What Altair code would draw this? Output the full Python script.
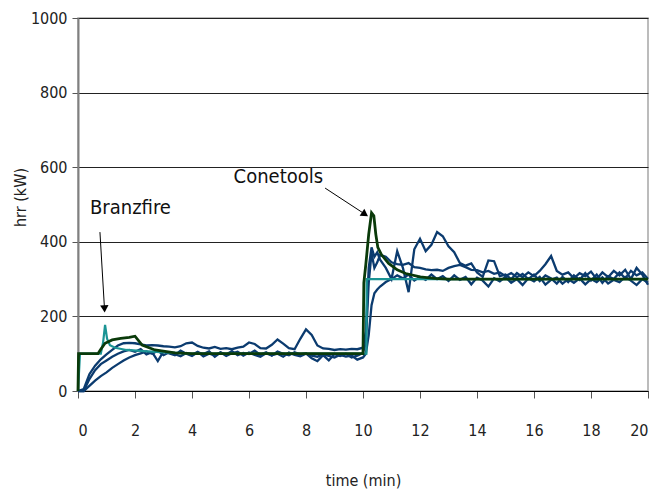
import altair as alt
import pandas as pd

FONT = "DejaVu Sans Condensed, DejaVu Sans, sans-serif"

# time grid for the three measured (experimental) curves, min
T = [0.0, 0.2, 0.4, 0.6, 0.8, 1.0, 1.2, 1.4, 1.6, 1.8,
     2.0, 2.2, 2.4, 2.6, 2.8, 3.0, 3.2, 3.4, 3.6, 3.8,
     4.0, 4.2, 4.4, 4.6, 4.8, 5.0, 5.2, 5.4, 5.6, 5.8,
     6.0, 6.2, 6.4, 6.6, 6.8, 7.0, 7.2, 7.4, 7.6, 7.8,
     8.0, 8.2, 8.4, 8.6, 8.8, 9.0, 9.2, 9.4, 9.6, 9.8,
     10.0, 10.1, 10.2, 10.3, 10.4, 10.5, 10.6,
     10.8, 11.0, 11.2, 11.4, 11.6, 11.8, 12.0, 12.2, 12.4, 12.6,
     12.8, 13.0, 13.2, 13.4, 13.6, 13.8, 14.0, 14.2, 14.4, 14.6,
     14.8, 15.0, 15.2, 15.4, 15.6, 15.8, 16.0, 16.2, 16.4, 16.6,
     16.8, 17.0, 17.2, 17.4, 17.6, 17.8, 18.0, 18.2, 18.4, 18.6,
     18.8, 19.0, 19.2, 19.4, 19.6, 19.8, 20.0]

exp1 = [0, 5, 45, 68, 85, 98, 110, 122, 128, 129,
        128, 125, 122, 123, 122, 120, 119, 117, 120, 128,
        130, 121, 116, 114, 118, 113, 115, 112, 116, 119,
        130, 126, 115, 114, 124, 138, 127, 115, 112, 140,
        165, 150, 122, 114, 113, 110, 112, 111, 113, 112,
        116, 160, 330, 385, 360, 372, 352,
        330, 300, 375, 330, 265, 380, 408, 375, 392, 426,
        415, 388, 372, 343, 336, 342, 318, 306, 350, 348,
        308, 312, 300, 316, 305, 318, 308, 322, 340, 362,
        322, 312, 318, 302, 316, 308, 320, 300, 318, 305,
        322, 310, 325, 300, 330, 312, 285]

exp2 = [0, 0, 32, 56, 72, 82, 92, 100, 106, 110,
        105, 112, 98, 104, 80, 106, 101, 96, 108, 100,
        94, 104, 99, 106, 92, 103, 98, 107, 96, 102,
        99, 108, 97, 104, 95, 106, 100, 96, 104, 98,
        101, 88, 80, 96, 82, 99, 94, 100, 90, 95,
        102, 130, 290, 370, 330, 345, 365,
        360, 345, 340, 338, 343, 332, 330, 326, 324, 325,
        322, 330, 335, 338, 332, 325, 324, 318, 322, 314,
        318, 308, 316, 305, 314, 300, 312, 295, 310, 302,
        288, 306, 292, 310, 298, 316, 296, 312, 290, 308,
        300, 318, 302, 322, 310, 318, 300]

exp3 = [0, 0, 14, 28, 40, 50, 62, 72, 82, 90,
        96, 101, 106, 100, 108, 96, 104, 99, 93, 102,
        97, 105, 93, 100, 96, 104, 94, 101, 105, 95,
        103, 97, 92, 101, 96, 100, 92, 103, 97, 93,
        100, 95, 92, 98, 94, 90, 97, 92, 95, 84,
        90, 100, 150, 230, 262, 272, 280,
        292, 300, 310, 302, 312, 296, 306, 298, 312, 300,
        308, 295, 310, 298, 306, 286, 304, 296, 280, 302,
        294, 306, 290, 300, 284, 302, 294, 306, 285, 298,
        304, 288, 300, 290, 302, 286, 300, 292, 305, 288,
        298, 292, 306, 296, 284, 300, 290]

# Branzfire model (teal)
bz_t = [0, 0.07, 0.8, 0.88, 0.95, 1.02, 1.12, 1.3, 1.7, 2.3, 2.9, 4.0, 10.12, 10.13, 20.0]
bz_v = [0, 100, 100, 130, 177, 140, 123, 116, 110, 107, 104, 100, 100, 300, 300]

# Conetools model (dark green)
ct_t = [0, 0.02, 0.7, 0.8, 0.95, 1.2, 1.5, 1.8, 2.0, 2.25, 2.7, 3.4, 4.0,
        10.0, 10.03, 10.1, 10.2, 10.3, 10.38, 10.45, 10.52, 10.65, 10.9,
        11.2, 11.5, 12.0, 12.5, 13.0, 20.0]
ct_v = [0, 100, 100, 112, 128, 137, 141, 144, 147, 123, 110, 102, 100,
        100, 290, 340, 420, 478, 470, 420, 385, 365, 342,
        325, 315, 306, 302, 300, 300]

x_ticks = [0, 2, 4, 6, 8, 10, 12, 14, 16, 18, 20]
y_ticks = [0, 200, 400, 600, 800, 1000]

# annotations
labels = ["Branzfire", "Conetools"]
label_t = [0.42, 8.6]
label_v = [490, 574]
label_align = ["left", "right"]
shaft_t = [[0.77, 0.93], [8.67, 10.07]]
shaft_v = [[426, 220], [544, 474]]
head_t = [0.93, 10.07]
head_v = [220, 474]
head_angle = [87, 34]

exp_rows = []
for name, vals in (("e1", exp1), ("e2", exp2), ("e3", exp3)):
    for t, v in zip(T, vals):
        exp_rows.append({"t": t, "v": v, "s": name})
exp_df = pd.DataFrame(exp_rows)
bz_df = pd.DataFrame({"t": bz_t, "v": bz_v})
ct_df = pd.DataFrame({"t": ct_t, "v": ct_v})

shaft_rows = []
for i, name in enumerate(labels):
    for t, v in zip(shaft_t[i], shaft_v[i]):
        shaft_rows.append({"t": t, "v": v, "s": name})
shaft_df = pd.DataFrame(shaft_rows)
head_df = pd.DataFrame({"t": head_t, "v": head_v, "a": head_angle})

xs = alt.Scale(domain=[0, 20], nice=False)
ys = alt.Scale(domain=[0, 1000], nice=False)

x_axis = alt.Axis(values=x_ticks, grid=False, title="time (min)", format="d",
                  domainColor="black", domainWidth=1, tickColor="#555555",
                  tickSize=7, labelPadding=24, labelFontSize=16, labelFont=FONT,
                  labelColor="#222222", titleFont=FONT, titleFontSize=16,
                  titleFontWeight="normal", titleColor="#222222",
                  titleY=89, titleBaseline="middle")
y_axis = alt.Axis(values=y_ticks, grid=True, gridColor="#222222", gridWidth=1,
                  format="d",
                  title="hrr (kW)", domainColor="#808080", domainWidth=2,
                  tickColor="#555555", tickSize=6, labelPadding=5,
                  labelFontSize=16, labelFont=FONT, labelColor="#222222",
                  titleFont=FONT, titleFontSize=16, titleFontWeight="normal",
                  titleColor="#222222", titleX=-58, titleY=179,
                  titleBaseline="middle")

exp_layer = alt.Chart(exp_df).mark_line(color="#0b3b6f", strokeWidth=2.3).encode(
    x=alt.X("t:Q", scale=xs, axis=x_axis),
    y=alt.Y("v:Q", scale=ys, axis=y_axis),
    detail="s:N",
    order="t:Q",
)
bz_layer = alt.Chart(bz_df).mark_line(color="#1b9494", strokeWidth=2.2).encode(
    x=alt.X("t:Q", scale=xs), y=alt.Y("v:Q", scale=ys), order="t:Q")
ct_layer = alt.Chart(ct_df).mark_line(color="#0a3a0a", strokeWidth=2.8).encode(
    x=alt.X("t:Q", scale=xs), y=alt.Y("v:Q", scale=ys), order="t:Q")

shaft_layer = alt.Chart(shaft_df).mark_line(color="black", strokeWidth=1).encode(
    x=alt.X("t:Q", scale=xs), y=alt.Y("v:Q", scale=ys), detail="s:N")
head_layer = alt.Chart(head_df).mark_point(shape="triangle-right", filled=True,
                                           color="black", size=70, opacity=1).encode(
    x=alt.X("t:Q", scale=xs), y=alt.Y("v:Q", scale=ys),
    angle=alt.Angle("a:Q", scale=None))

text_layers = []
for i, name in enumerate(labels):
    tdf = pd.DataFrame({"t": [label_t[i]], "v": [label_v[i]], "label": [name]})
    text_layers.append(
        alt.Chart(tdf).mark_text(align=label_align[i], baseline="middle",
                                 font=FONT, fontSize=20, color="#111111").encode(
            x=alt.X("t:Q", scale=xs), y=alt.Y("v:Q", scale=ys), text="label:N"))

chart = alt.layer(exp_layer, bz_layer, ct_layer, shaft_layer, head_layer,
                  *text_layers).properties(
    width=570, height=373,
    autosize=alt.AutoSizeParams(type="none"),
    padding={"left": 70, "top": 10, "right": 2, "bottom": 100},
).configure_view(stroke="#a6a6a6", strokeWidth=1.5)

chart.save("out.html", embed_options={"renderer": "svg", "actions": False})
